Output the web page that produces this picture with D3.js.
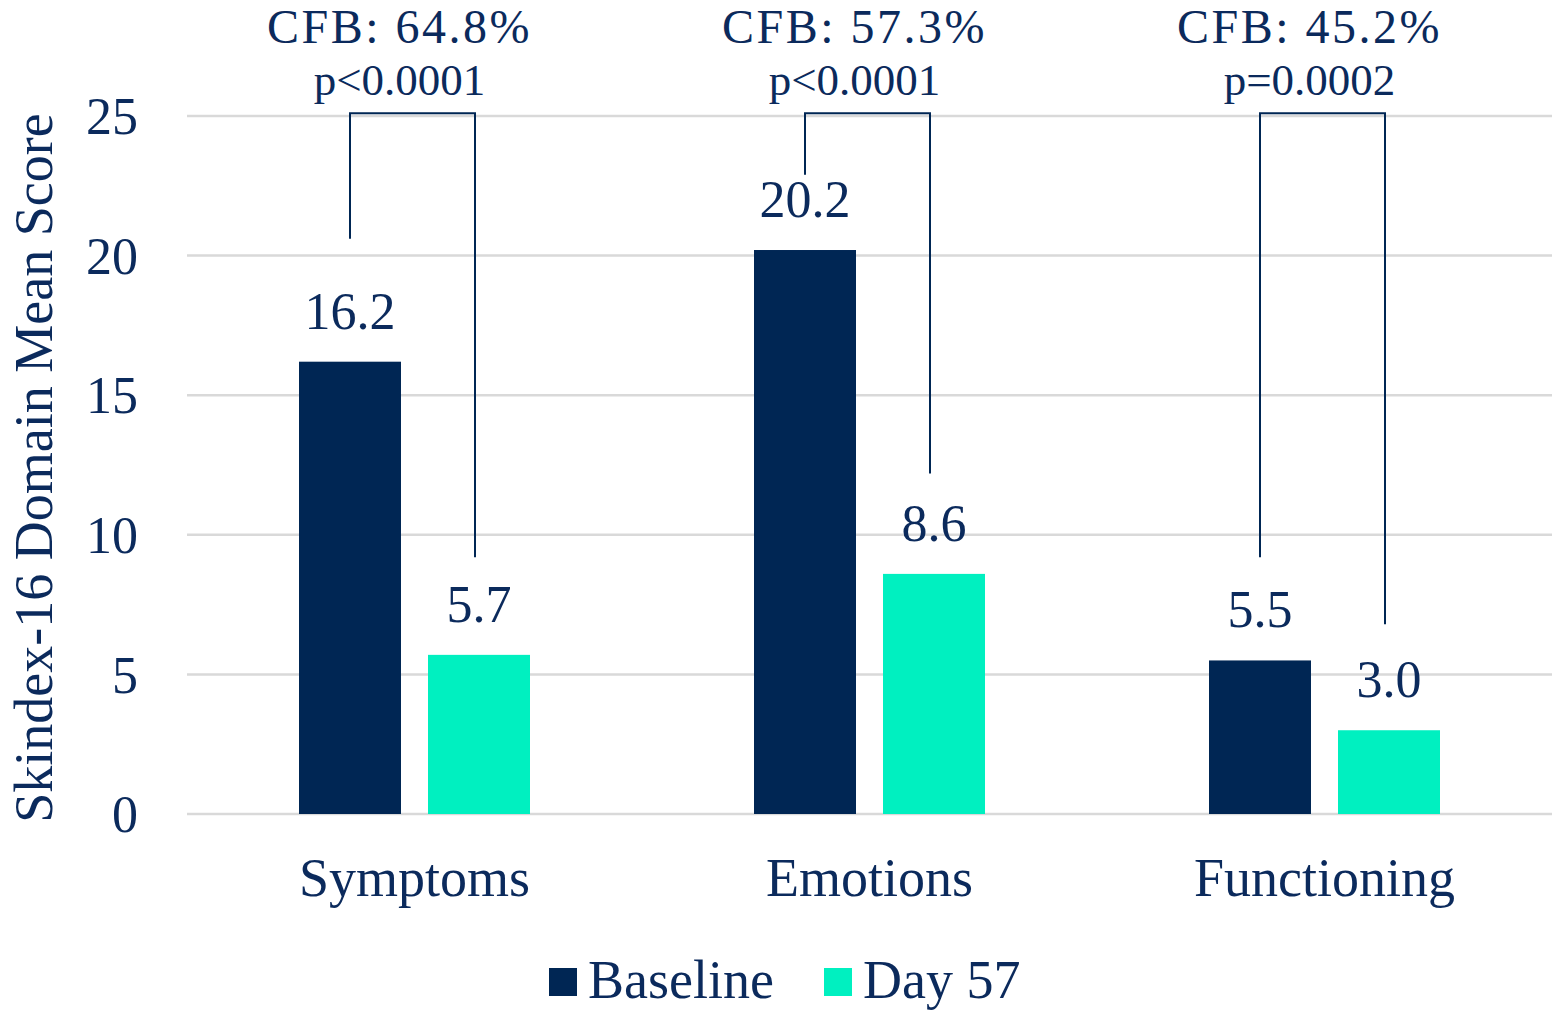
<!DOCTYPE html>
<html>
<head>
<meta charset="utf-8">
<script src="https://cdn.jsdelivr.net/npm/d3@7"></script>
<style>
  html, body { margin: 0; padding: 0; background: #fff; }
  svg { display: block; font-family: "Liberation Serif", "Times New Roman", serif; }
</style>
</head>
<body>
<svg id="chart" width="1552" height="1016"></svg>
<script>
// ---- data ----
var categories = ['Symptoms', 'Emotions', 'Functioning'];
var seriesNames = ['Baseline', 'Day 57'];
var baselineValues = [16.2, 20.2, 5.5];
var day57Values = [5.7, 8.6, 3.0];
var cfbLabels = ['CFB: 64.8%', 'CFB: 57.3%', 'CFB: 45.2%'];
var pLabels = ['p<0.0001', 'p<0.0001', 'p=0.0002'];
// where each bracket leg stops (in score units): [left, right]
var bracketEnds = [[20.6, 9.2], [22.9, 12.2], [9.2, 6.8]];
var bracketTop = 25.1;
var yTicks = [0, 5, 10, 15, 20, 25];

var NAVY = '#002654';
var MINT = '#00F0C0';
var TEXT = '#0b2a5c';
var GRID = '#d9d9d9';
var colors = [NAVY, MINT];

var svg = d3.select('#chart');

var x0 = d3.scaleBand().domain(categories).range([187, 1552]).padding(0);
var x1 = d3.scaleBand().domain(seriesNames).range([0, x0.bandwidth()])
  .paddingInner(27 / 129).paddingOuter(112 / 129);
var y = d3.scaleLinear().domain([0, 25]).range([814, 116]);

// grid lines
svg.append('g')
  .selectAll('line')
  .data(yTicks)
  .enter().append('line')
  .attr('x1', 187).attr('x2', 1552)
  .attr('y1', function(d) { return y(d); })
  .attr('y2', function(d) { return y(d); })
  .attr('stroke', GRID)
  .attr('stroke-width', 2.5);

// y axis tick labels
svg.append('g')
  .attr('transform', 'translate(138,0)')
  .call(d3.axisLeft(y).tickValues(yTicks).tickSize(0).tickPadding(0))
  .call(function(g) {
    g.select('.domain').remove();
    g.selectAll('text')
      .attr('fill', TEXT)
      .attr('font-size', 52)
      .attr('font-family', 'Liberation Serif, Times New Roman, serif')
      .attr('dy', '0.34em');
  });

// y axis title
svg.append('text')
  .attr('transform', 'translate(52,468) rotate(-90)')
  .attr('text-anchor', 'middle')
  .attr('fill', TEXT)
  .attr('font-size', 54)
  .text('Skindex-16 Domain Mean Score');

// bars
var rows = categories.map(function(c, i) {
  return { cat: c, values: [baselineValues[i], day57Values[i]] };
});

var groups = svg.append('g')
  .selectAll('g')
  .data(rows)
  .enter().append('g')
  .attr('transform', function(d) { return 'translate(' + x0(d.cat) + ',0)'; });

groups.selectAll('rect')
  .data(function(d) { return d.values.map(function(v, k) { return { s: seriesNames[k], v: v, k: k }; }); })
  .enter().append('rect')
  .attr('x', function(d) { return x1(d.s); })
  .attr('y', function(d) { return y(d.v); })
  .attr('width', x1.bandwidth())
  .attr('height', function(d) { return y(0) - y(d.v); })
  .attr('fill', function(d) { return colors[d.k]; });

// value labels
groups.selectAll('text.val')
  .data(function(d) { return d.values.map(function(v, k) { return { s: seriesNames[k], v: v }; }); })
  .enter().append('text')
  .attr('class', 'val')
  .attr('x', function(d) { return x1(d.s) + x1.bandwidth() / 2; })
  .attr('y', function(d) { return y(d.v) - 33; })
  .attr('text-anchor', 'middle')
  .attr('fill', TEXT)
  .attr('font-size', 52)
  .text(function(d) { return d.v.toFixed(1); });

// brackets
rows.forEach(function(d, i) {
  var xl = x0(d.cat) + x1(seriesNames[0]) + x1.bandwidth() / 2;
  var xr = x0(d.cat) + x1(seriesNames[1]) + x1.bandwidth() / 2 - 4;
  var path = d3.path();
  path.moveTo(xl, y(bracketEnds[i][0]));
  path.lineTo(xl, y(bracketTop));
  path.lineTo(xr, y(bracketTop));
  path.lineTo(xr, y(bracketEnds[i][1]));
  svg.append('path')
    .attr('d', path.toString())
    .attr('fill', 'none')
    .attr('stroke', NAVY)
    .attr('stroke-width', 2);

  var cx = x0(d.cat) + x0.bandwidth() / 2 - 15;
  svg.append('text')
    .attr('x', cx).attr('y', 43)
    .attr('text-anchor', 'middle')
    .attr('fill', TEXT)
    .attr('font-size', 48)
    .attr('letter-spacing', 2.5)
    .text(cfbLabels[i]);
  svg.append('text')
    .attr('x', cx).attr('y', 95)
    .attr('text-anchor', 'middle')
    .attr('fill', TEXT)
    .attr('font-size', 45)
    .text(pLabels[i]);
});

// category axis labels
svg.append('g')
  .attr('transform', 'translate(0,896)')
  .call(d3.axisBottom(x0).tickSize(0).tickPadding(0))
  .call(function(g) {
    g.select('.domain').remove();
    g.selectAll('text')
      .attr('fill', TEXT)
      .attr('font-size', 54)
      .attr('font-family', 'Liberation Serif, Times New Roman, serif')
      .attr('dy', 0);
  });

// legend
var legendX = [549, 824];
var legend = svg.append('g')
  .selectAll('g')
  .data(seriesNames)
  .enter().append('g')
  .attr('transform', function(d, i) { return 'translate(' + legendX[i] + ',0)'; });
legend.append('rect')
  .attr('x', 0).attr('y', 968)
  .attr('width', 28).attr('height', 28)
  .attr('fill', function(d, i) { return colors[i]; });
legend.append('text')
  .attr('x', 39).attr('y', 998)
  .attr('fill', TEXT)
  .attr('font-size', 54)
  .text(function(d) { return d; });
</script>
</body>
</html>
